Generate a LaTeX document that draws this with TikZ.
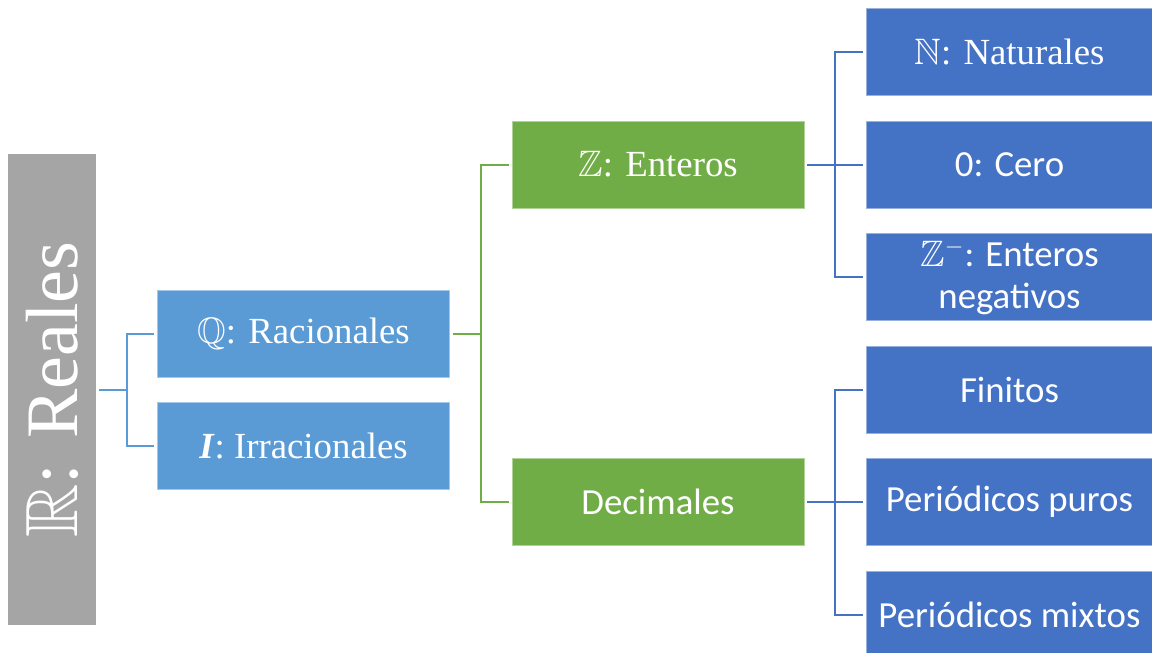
\documentclass[tikz,border=0pt]{standalone}
\usepackage{amssymb}
\usepackage{fontspec}
\setmainfont{Liberation Serif}
\newfontfamily\calfont{Carlito}
\definecolor{gris}{HTML}{A5A5A5}
\definecolor{azulclaro}{HTML}{5B9BD5}
\definecolor{verde}{HTML}{70AD47}
\definecolor{azul}{HTML}{4472C4}
\tikzset{
  caja/.style={rectangle, inner sep=0pt, text=white, minimum width=146pt, minimum height=43.5pt, font=\fontsize{18.4}{21}\selectfont},
  cajaq/.style={caja, fill=azulclaro, draw=azulclaro!55!white, line width=0.3pt},
  cajaz/.style={caja, fill=verde, draw=verde!55!white, line width=0.3pt},
  cajan/.style={caja, fill=azul, draw=azul!55!white, line width=0.3pt, minimum width=143.5pt, font=\calfont\fontsize{18.4}{21}\selectfont},
  rama/.style={line width=1pt}
}
\begin{document}
\begin{tikzpicture}[x=0.5pt, y=-0.5pt]
  \useasboundingbox (0,0) rectangle (1152,653);

  % reales
  \node[rectangle, fill=gris, minimum width=44pt, minimum height=235.5pt, inner sep=0pt] (reales) at (52,389.5) {};
  \node[text=white, rotate=90, font=\fontsize{37}{40}\selectfont] at (reales.center) {$\mathbb{R}$: Reales};

  % racionales e irracionales
  \node[cajaq] (racionales) at (303.5,333.5) {$\mathbb{Q}$: Racionales};
  \node[cajaq] (irracionales) at (303.5,445.5) {\textbf{\textit{I}}: Irracionales};

  % enteros y decimales
  \node[cajaz] (enteros) at (658,164.5) {$\mathbb{Z}$: Enteros};
  \node[cajaz, font=\calfont\fontsize{18.4}{21}\selectfont] (decimales) at (658,502) {Decimales};

  % columna derecha
  \node[cajan, font=\fontsize{18.4}{21}\selectfont] (naturales) at (1009.5,52) {$\mathbb{N}$: Naturales};
  \node[cajan] (cero) at (1009.5,164.5) {0: Cero};
  \node[cajan, align=center] (negativos) at (1009.5,277) {$\mathbb{Z}^{-}$: Enteros\\negativos};
  \node[cajan] (finitos) at (1009.5,389.5) {Finitos};
  \node[cajan] (puros) at (1009.5,502) {Periódicos puros};
  \node[cajan] (mixtos) at (1009.5,614.5) {Periódicos mixtos};

  % conectores
  \coordinate (j1) at (127,389.5);
  \coordinate (j2) at (481,333.5);
  \coordinate (j3) at (835,164.5);
  \coordinate (j4) at (835,502);

  \draw[rama, azulclaro] ([xshift=1.5pt]reales.east) -- (j1);
  \draw[rama, azulclaro] ([xshift=-1.5pt]racionales.west) -| (j1) |- ([xshift=-1.5pt]irracionales.west);

  \draw[rama, verde] ([xshift=1.5pt]racionales.east) -- (j2);
  \draw[rama, verde] ([xshift=-1.5pt]enteros.west) -| (j2) |- ([xshift=-1.5pt]decimales.west);

  \draw[rama, azul] ([xshift=1.5pt]enteros.east) -- ([xshift=-1.5pt]cero.west);
  \draw[rama, azul] ([xshift=-1.5pt]naturales.west) -| (j3) |- ([xshift=-1.5pt]negativos.west);

  \draw[rama, azul] ([xshift=1.5pt]decimales.east) -- ([xshift=-1.5pt]puros.west);
  \draw[rama, azul] ([xshift=-1.5pt]finitos.west) -| (j4) |- ([xshift=-1.5pt]mixtos.west);
\end{tikzpicture}
\end{document}
